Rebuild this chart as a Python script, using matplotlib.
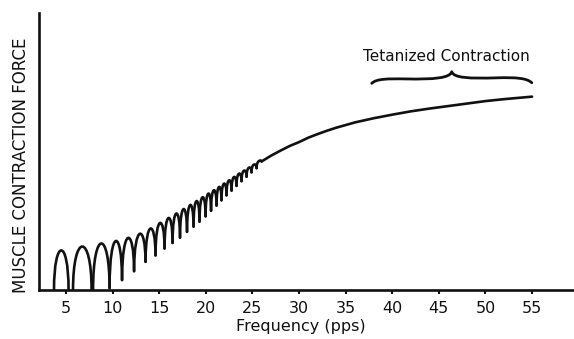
import numpy as np
import matplotlib
matplotlib.use("Agg")
import matplotlib.pyplot as plt
from matplotlib.path import Path
from matplotlib.patches import PathPatch

# ---- data (frequency in pps, force in % of axis height) ----
twitch_start_freq = [3.71, 5.75, 7.90, 9.67, 11.01, 12.30, 13.53, 14.60, 15.57, 16.43,
                     17.23, 17.98, 18.68, 19.32, 19.97, 20.56, 21.15, 21.68, 22.22, 22.76,
                     23.29, 23.83, 24.37, 24.90, 25.44]
twitch_end_freq = [5.27, 7.74, 9.67, 11.01, 12.30, 13.53, 14.60, 15.57, 16.43, 17.23,
                   17.98, 18.68, 19.32, 19.97, 20.56, 21.15, 21.68, 22.22, 22.76, 23.29,
                   23.83, 24.37, 24.90, 25.44, 25.98]
twitch_peak_force = [14.3, 15.7, 16.8, 17.7, 18.8, 20.3, 22.2, 24.2, 26.0, 27.6,
                     29.2, 30.7, 32.1, 33.5, 34.8, 36.0, 37.2, 38.4, 39.6, 40.8,
                     42.0, 43.1, 44.2, 45.3, 46.6]
twitch_start_force = [0.0, 0.0, 0.0, 0.7, 3.6, 6.8, 10.2, 12.5, 15.0, 17.0,
                      18.9, 21.0, 22.9, 24.7, 26.6, 28.6, 30.5, 32.4, 34.2, 35.9,
                      37.6, 39.3, 40.9, 42.5, 44.0]
twitch_end_force = [0.0, 0.0, 0.7, 3.6, 6.8, 10.2, 12.5, 15.0, 17.0, 18.9,
                    21.0, 22.9, 24.7, 26.6, 28.6, 30.5, 32.4, 34.2, 35.9, 37.6,
                    39.3, 40.9, 42.5, 44.0, 46.4]

tetanus_freq = [25.98, 27, 28, 29, 30, 31, 32, 33, 34, 36, 38, 40, 42, 44, 46, 48, 50, 52, 55]
tetanus_force = [46.4, 48.5, 50.3, 52.0, 53.4, 55.0, 56.3, 57.5, 58.6, 60.5, 62.0, 63.3,
                 64.5, 65.5, 66.4, 67.3, 68.2, 68.9, 69.8]

x_ticks = [5, 10, 15, 20, 25, 30, 35, 40, 45, 50, 55]
x_label = "Frequency (pps)"
y_label = "MUSCLE CONTRACTION FORCE"
brace_label = "Tetanized Contraction"
brace_span = (37.8, 54.97)

ink = "#111111"

W, H = 574, 339
fig = plt.figure(figsize=(W / 100, H / 100), dpi=100)
ax = fig.add_axes([39 / W, 49 / H, (W - 39) / W, 277 / H])
ax.set_xlim(2.1, 59.5)
ax.set_ylim(0, 100)

# individual twitches drawn as arches
for x0, x1, y0, yp, y1 in zip(twitch_start_freq, twitch_end_freq,
                               twitch_start_force, twitch_peak_force, twitch_end_force):
    yc = (yp - 0.125 * (y0 + y1)) / 0.75
    verts = [(x0, y0), (x0, yc), (x1, yc), (x1, y1)]
    codes = [Path.MOVETO, Path.CURVE4, Path.CURVE4, Path.CURVE4]
    ax.add_patch(PathPatch(Path(verts, codes), fill=False, lw=1.9, ec=ink,
                           capstyle="round", joinstyle="round"))

# fused / tetanized part
ax.plot(tetanus_freq, tetanus_force, color=ink, lw=1.9, solid_capstyle="round")

# brace
bl, br = brace_span
bm = (bl + br) / 2
verts = [(bl, 74.6), (bl + 0.5, 76.3), (bl + 1.7, 76.3), (bl + 3.7, 76.2),
         (bm - 1.9, 76.0), (bm - 0.2, 76.5), (bm, 78.8),
         (bm + 0.2, 76.5), (bm + 1.9, 76.3), (bm + 4.9, 76.6),
         (br - 1.7, 76.8), (br - 0.5, 76.5), (br, 74.8)]
codes = [Path.MOVETO] + [Path.CURVE4] * 12
ax.add_patch(PathPatch(Path(verts, codes), fill=False, lw=2.0, ec=ink,
                       capstyle="round", joinstyle="round"))
ax.text(bm - 0.6, 84.2, brace_label, ha="center", va="center", fontsize=11, color=ink)

# axes styling
for s in ("top", "right"):
    ax.spines[s].set_visible(False)
for s in ("left", "bottom"):
    ax.spines[s].set_linewidth(1.9)
    ax.spines[s].set_color(ink)
ax.set_xticks(x_ticks)
ax.set_xticklabels([str(t) for t in x_ticks])
ax.tick_params(axis="x", direction="out", length=3, width=1.5, pad=5,
               labelsize=11.5, colors=ink)
ax.set_yticks([])

fig.text(301 / W, 1 - 326 / H, x_label, ha="center", va="center", fontsize=11.5, color=ink)
fig.text(21.5 / W, 1 - 165 / H, y_label, ha="center", va="center", rotation=90,
         fontsize=12, color=ink)

fig.savefig("out.png", dpi=100, facecolor="white")
